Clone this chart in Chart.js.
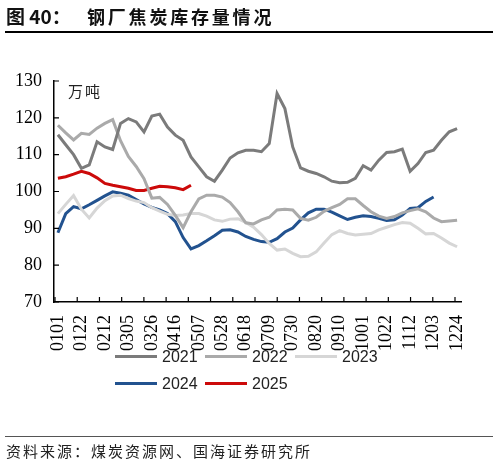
<!DOCTYPE html>
<html>
<head>
<meta charset="utf-8">
<script src="https://cdn.jsdelivr.net/npm/chart.js@4.4.1/dist/chart.umd.min.js"></script>
<style>
  body { margin: 0; background: #fff; }
  #wrap { position: relative; width: 498px; height: 465px; overflow: hidden; background: #fff; }
  #c { position: absolute; left: 0; top: 0; }
  .txt { position: absolute; white-space: nowrap; color: #111; font-family: "Noto Sans CJK SC", sans-serif; }
  .head1 { left: 6px; top: 2px; font-size: 19px; font-weight: bold; }
  .head2 { left: 87px; top: 3px; font-size: 18px; font-weight: bold; letter-spacing: 2.8px; }
  .rule { position: absolute; left: 5px; width: 488px; background: #000; }
  .unit { left: 68px; top: 80px; font-size: 15px; letter-spacing: 2px; color: #222; }
  .src { left: 6px; top: 440px; font-size: 15px; letter-spacing: 2px; color: #222; }
  .item { position: absolute; height: 20px; line-height: 20px; font: 16px "Liberation Sans", sans-serif; color: #222; white-space: nowrap; }
  .sw { display: inline-block; width: 42px; height: 3px; vertical-align: middle; margin-right: 5px; position: relative; top: -1px; }
</style>
</head>
<body>
<div id="wrap">
  <canvas id="c" width="498" height="465"></canvas>
  <div class="txt head1">图 40：</div>
  <div class="txt head2">钢厂焦炭库存量情况</div>
  <div class="rule" style="top:31px;height:1.5px"></div>
  <div class="txt unit">万吨</div>
  <div id="legend"></div>
  <div class="rule" style="top:436px;height:1.2px;background:#555"></div>
  <div class="txt src">资料来源：煤炭资源网、国海证券研究所</div>
</div>
<script>
// weekly dates, every 3rd one is shown on the axis
const weeks = ["0101","0108","0115","0122","0129","0205","0212","0219","0226","0305",
  "0312","0319","0326","0402","0409","0416","0423","0430","0507","0514",
  "0521","0528","0604","0611","0618","0625","0702","0709","0716","0723",
  "0730","0806","0813","0820","0827","0903","0910","0917","0924","1001",
  "1008","1015","1022","1029","1105","1112","1119","1126","1203","1210",
  "1217","1224"];

// coke stock at steel mills, 10k tonnes
const y2021 = [115.4,112.7,110.0,106.3,107.2,113.5,112.1,111.4,118.5,119.8,
  118.9,116.2,120.5,121.0,117.5,115.3,113.9,109.4,106.7,104.0,
  102.8,105.8,109.1,110.5,111.2,111.2,110.8,113.0,126.6,122.5,
  112.1,106.4,105.5,104.9,104.0,102.8,102.4,102.5,103.6,107.0,
  105.8,108.5,110.6,110.8,111.5,105.5,107.6,110.6,111.2,113.9,
  116.2,117.1];
const y2022 = [118.0,115.9,114.0,115.8,115.5,117.2,118.5,119.5,113.8,109.5,
  106.8,103.5,98.2,98.4,96.5,93.5,90.2,94.5,98.0,99.0,
  99.0,98.5,97.0,94.5,91.5,91.2,92.3,93.0,95.0,95.2,
  95.0,92.7,92.2,93.0,94.6,95.6,96.5,98.0,98.0,96.2,
  94.5,93.3,92.7,93.2,94.2,94.8,95.3,94.5,92.8,91.8,
  92.0,92.2];
const y2023 = [94.0,96.5,98.9,95.2,92.8,95.5,97.5,98.8,99.0,98.1,
  97.4,97.0,95.6,94.7,93.8,93.5,93.6,94.0,94.0,93.3,
  92.3,91.9,92.5,92.6,91.6,90.3,88.3,85.9,84.1,84.4,
  83.2,82.3,82.4,83.6,86.0,88.3,89.4,88.6,88.2,88.4,
  88.6,89.6,90.3,91.0,91.6,91.4,90.0,88.5,88.6,87.4,
  86.0,85.0];
const y2024 = [88.8,94.0,95.9,95.3,96.4,97.6,98.8,99.9,99.5,99.0,
  97.8,96.6,95.7,95.0,94.0,91.8,87.5,84.4,85.3,86.6,
  88.0,89.5,89.6,89.0,87.8,87.0,86.4,86.2,87.2,89.0,
  90.1,92.3,94.2,95.2,95.2,94.4,93.4,92.4,93.0,93.4,
  93.2,92.7,92.1,92.3,93.6,95.4,95.6,97.3,98.5];
const y2025 = [103.6,104.0,104.7,105.5,104.9,103.7,102.2,101.7,101.3,100.9,
  100.3,100.3,100.9,101.4,101.3,101.0,100.5,101.7];

const yTicks = [70, 80, 90, 100, 110, 120, 130];

function line(label, data, color) {
  return {
    label: label,
    data: data,
    borderColor: color,
    backgroundColor: color,
    borderWidth: 3,
    pointRadius: 0,
    tension: 0,
    fill: false,
  };
}

// short inward tick marks like the original Excel chart
const axisTicks = {
  id: "axisTicks",
  afterDraw(chart) {
    const { ctx, chartArea: a, scales: { y } } = chart;
    ctx.save();
    ctx.strokeStyle = "#000";
    ctx.lineWidth = 1.2;
    ctx.beginPath();
    yTicks.forEach((v) => {
      const py = y.getPixelForValue(v);
      ctx.moveTo(a.left, py);
      ctx.lineTo(a.left + 5, py);
    });
    for (let k = 0; k <= 18; k++) {
      const px = a.left + 1 + (k * (a.width - 7)) / 18;
      ctx.moveTo(px, a.bottom);
      ctx.lineTo(px, a.bottom - 5);
    }
    ctx.stroke();
    ctx.restore();
  },
};

const chart = new Chart(document.getElementById("c"), {
  type: "line",
  data: {
    labels: weeks,
    datasets: [
      line("2021", y2021, "#7b7b7b"),
      line("2022", y2022, "#aaaaaa"),
      line("2023", y2023, "#d6d6d6"),
      line("2024", y2024, "#22528f"),
      line("2025", y2025, "#cc0a0a"),
    ],
  },
  options: {
    responsive: false,
    animation: false,
    layout: { padding: { left: 0, top: 81, right: 37, bottom: 103 } },
    plugins: { legend: { display: false }, tooltip: { enabled: false } },
    scales: {
      x: {
        offset: true,
        grid: { display: false, drawTicks: false },
        border: { display: true, color: "#000", width: 1.5 },
        afterFit: (s) => { s.height = 60; },
        ticks: {
          autoSkip: false,
          maxRotation: 90,
          minRotation: 90,
          padding: 13,
          color: "#000",
          font: { family: "Liberation Serif", size: 18 },
          callback: (v, i) => (i % 3 === 0 ? weeks[i] : null),
        },
      },
      y: {
        min: 70,
        max: 130,
        grid: { display: false, drawTicks: false },
        border: { display: true, color: "#000", width: 1.5 },
        afterFit: (s) => { s.width = 54; },
        ticks: {
          stepSize: 10,
          padding: 12,
          color: "#000",
          font: { family: "Liberation Serif", size: 18 },
        },
      },
    },
  },
  plugins: [axisTicks],
});

// legend laid out in two left-aligned rows
const legendEl = document.getElementById("legend");
chart.data.datasets.forEach((ds, i) => {
  const item = document.createElement("div");
  item.className = "item";
  item.style.left = 115 + (i % 3) * 90 + "px";
  item.style.top = (i < 3 ? 348 : 375) + "px";
  item.innerHTML = '<span class="sw" style="background:' + ds.borderColor + '"></span>' + ds.label;
  legendEl.appendChild(item);
});
</script>
</body>
</html>
